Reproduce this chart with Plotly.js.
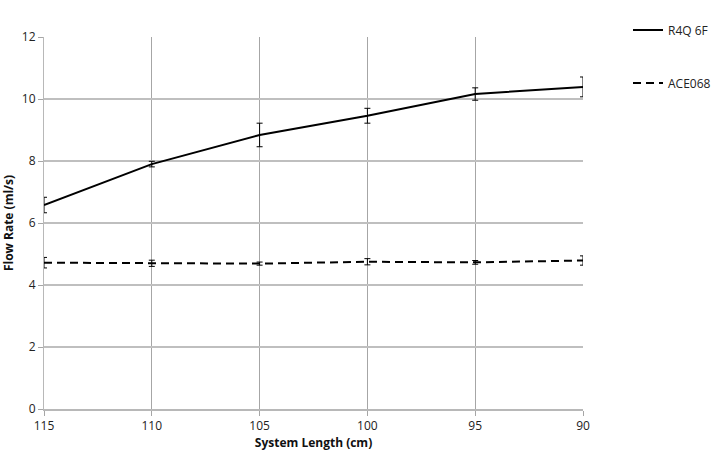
<!DOCTYPE html>
<html>
<head>
<meta charset="utf-8">
<script src="https://cdn.plot.ly/plotly-3.0.1.min.js"></script>
<style>
  body { margin: 0; background: #fff; }
  #chart { width: 712px; height: 455px; }
</style>
</head>
<body>
<div id="chart"></div>
<script>
// System length categories (cm), read left to right
const lengths = ["115", "110", "105", "100", "95", "90"];

// R4Q 6F flow rate and error
const r4qFlow = [6.58, 7.9, 8.84, 9.46, 10.16, 10.39];
const r4qErr = [0.25, 0.09, 0.38, 0.24, 0.2, 0.32];

// ACE068 flow rate and error
const aceFlow = [4.72, 4.7, 4.69, 4.75, 4.73, 4.79];
const aceErr = [0.17, 0.1, 0.05, 0.1, 0.06, 0.15];

const font = "Open Sans, Liberation Sans, sans-serif";

const makeErr = (arr) => ({
  type: "data",
  array: arr,
  visible: true,
  color: "#000",
  thickness: 1,
  width: 3,
});

const data = [
  {
    x: lengths,
    y: r4qFlow,
    type: "scatter",
    mode: "lines",
    name: "R4Q 6F",
    line: { color: "#000", width: 2 },
    error_y: makeErr(r4qErr),
    legend: "legend",
  },
  {
    x: lengths,
    y: aceFlow,
    type: "scatter",
    mode: "lines",
    name: "ACE068",
    line: { color: "#000", width: 2, dash: "8px,5px" },
    error_y: makeErr(aceErr),
    legend: "legend2",
  },
];

// plot area in pixels
const plotL = 44, plotR = 583, plotT = 37, plotB = 409;
const plotW = plotR - plotL, plotH = plotB - plotT;

const legendBase = {
  xanchor: "left",
  yanchor: "middle",
  bgcolor: "rgba(0,0,0,0)",
  font: { family: font, size: 12, color: "#222" },
  itemwidth: 30,
};

const layout = {
  width: 712,
  height: 455,
  margin: { l: plotL, r: 712 - plotR, t: plotT, b: 455 - plotB, autoexpand: false },
  paper_bgcolor: "#fff",
  plot_bgcolor: "#fff",
  font: { family: font, size: 12, color: "#222" },
  xaxis: {
    type: "category",
    range: [0, 5],
    showgrid: true,
    gridcolor: "#a6a6a6",
    gridwidth: 1,
    showline: true,
    linecolor: "#b8b8b8",
    linewidth: 2,
    ticks: "outside",
    ticklen: 5,
    tickcolor: "#a6a6a6",
    tickfont: { family: font, size: 12, color: "#222" },
    title: {
      text: "<b>System Length (cm)</b>",
      font: { family: font, size: 12, color: "#111" },
      standoff: 2,
    },
    zeroline: false,
  },
  yaxis: {
    range: [0, 12],
    dtick: 2,
    showgrid: true,
    gridcolor: "#bfbfbf",
    gridwidth: 2,
    showline: true,
    linecolor: "#b8b8b8",
    linewidth: 1,
    ticks: "outside",
    ticklen: 5,
    tickcolor: "#a6a6a6",
    tickfont: { family: font, size: 12, color: "#222" },
    title: {
      text: "<b>Flow Rate (ml/s)</b>",
      font: { family: font, size: 12, color: "#111" },
      standoff: 12,
    },
    zeroline: false,
  },
  showlegend: true,
  legend: Object.assign({ x: (628 - plotL) / plotW, y: (plotB - 30) / plotH }, legendBase),
  legend2: Object.assign({ x: (628 - plotL) / plotW, y: (plotB - 83) / plotH }, legendBase),
};

window.Plotly.newPlot("chart", data, layout, { displayModeBar: false });
</script>
</body>
</html>
